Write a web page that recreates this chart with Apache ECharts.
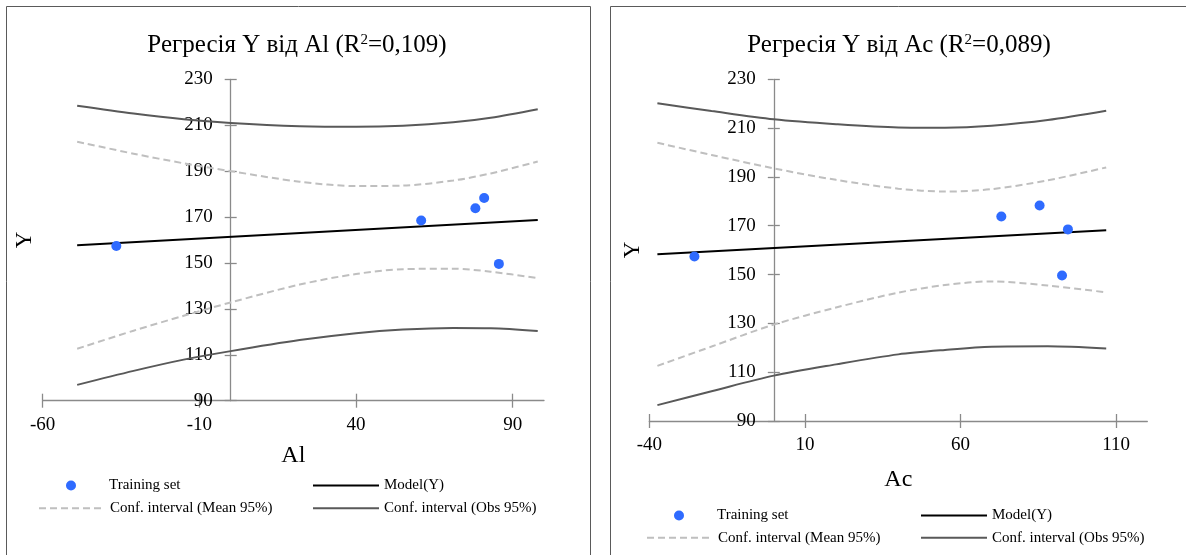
<!DOCTYPE html>
<html>
<head>
<meta charset="utf-8">
<script src="https://cdn.jsdelivr.net/npm/echarts@6/dist/echarts.min.js"></script>
<style>
  html, body { margin: 0; padding: 0; background: #fff; }
  #chart { width: 1186px; height: 555px; }
</style>
</head>
<body>
<div id="chart"></div>
<script>
// training set (same Y for both panels)
const trainY = [157.4, 168.5, 173.8, 178.3, 149.6];
const trainAl = [-36.5, 60.8, 78.1, 80.9, 85.6];
const trainAc = [-25.5, 94.5, 73.1, 85.4, 92.6];

// Al panel
const alModelX = [-49, 98];
const alModelY = [157.7, 168.7];
const alX = [-49, -31, -15, 0, 22, 40, 55, 71, 83, 98];
const alMeanUp = [202.8, 197.6, 193.4, 190.0, 185.4, 183.5, 183.7, 185.9, 189.0, 194.2];
const alMeanLo = [112.6, 120.5, 127.0, 132.8, 140.6, 145.2, 147.3, 147.5, 146.2, 143.4];
const alObsUp = [218.5, 215.1, 212.6, 211.0, 209.6, 209.3, 209.8, 211.3, 213.3, 217.0];
const alObsLo = [96.9, 103.0, 107.9, 111.6, 116.4, 119.4, 121.0, 121.7, 121.6, 120.4];
const alTicks = [-60, -10, 40, 90];

// Ac panel
const acModelX = [-37.4, 106.8];
const acModelY = [158.3, 168.2];
const acX = [-37.4, -20, 0, 20, 40, 55, 70, 88, 106.8];
const acMeanUp = [204, 199, 193.5, 188.8, 185.2, 184, 185, 188.6, 193.9];
const acMeanLo = [112.6, 120.5, 129.5, 136.5, 142.6, 145.7, 147.2, 145.5, 142.7];
const acObsUp = [220.2, 217, 213.6, 211.6, 210.3, 210.2, 211, 213.3, 217.1];
const acObsLo = [96.5, 102.2, 108.6, 113.2, 117.3, 119.1, 120.4, 120.6, 119.7];
const acTicks = [-40, 10, 60, 110];

const F = "'Liberation Serif', 'Times New Roman', serif";
const AXIS = '#8a8a8a';
const BLUE = '#2f6bff';

function pairs(xs, ys) {
  return xs.map((x, i) => [x, ys[i]]);
}

function xAxes(g, min, max, ticks, name, gap) {
  return [
    {
      gridIndex: g, type: 'value', min: min, max: max, interval: 50, position: 'bottom',
      name: name, nameLocation: 'middle', nameGap: gap,
      nameTextStyle: { fontFamily: F, fontSize: 24, color: '#000' },
      axisLine: { show: true, onZero: false, lineStyle: { color: AXIS, width: 1.3 } },
      axisTick: { show: true, length: 7, customValues: ticks, lineStyle: { color: AXIS, width: 1.3 } },
      axisLabel: { show: true, customValues: ticks, margin: 15, fontFamily: F, fontSize: 19, color: '#000' },
      splitLine: { show: false }
    },
    {
      gridIndex: g, type: 'value', min: min, max: max, interval: 50, position: 'bottom',
      axisLine: { show: false, onZero: false },
      axisTick: { show: true, inside: true, length: 7, customValues: ticks, lineStyle: { color: AXIS, width: 1.3 } },
      axisLabel: { show: false },
      splitLine: { show: false }
    }
  ];
}

// y axis sits at x = 0, so it is shifted into the grid with a negative offset
function yAxes(g, offset) {
  return [
    {
      gridIndex: g, type: 'value', min: 90, max: 230, interval: 20, position: 'left', offset: offset,
      axisLine: { show: true, onZero: false, lineStyle: { color: AXIS, width: 1.3 } },
      axisTick: { show: true, length: 6, lineStyle: { color: AXIS, width: 1.3 } },
      axisLabel: { show: true, margin: 18, fontFamily: F, fontSize: 19, color: '#000' },
      splitLine: { show: false }
    },
    {
      gridIndex: g, type: 'value', min: 90, max: 230, interval: 20, position: 'left', offset: offset,
      axisLine: { show: false, onZero: false },
      axisTick: { show: true, inside: true, length: 6, lineStyle: { color: AXIS, width: 1.3 } },
      axisLabel: { show: false },
      splitLine: { show: false }
    }
  ];
}

function panelSeries(xi, yi, trainX, modelX, modelY, cx, meanUp, meanLo, obsUp, obsLo) {
  const base = { type: 'line', xAxisIndex: xi, yAxisIndex: yi, symbol: 'none', showSymbol: false, smooth: 0.3, silent: true };
  const meanStyle = { color: '#bfbfbf', width: 2, type: [7, 4] };
  const obsStyle = { color: '#595959', width: 2 };
  return [
    Object.assign({}, base, { name: 'Conf. interval (Mean 95%)', data: pairs(cx, meanUp), lineStyle: meanStyle, itemStyle: { color: '#bfbfbf' } }),
    Object.assign({}, base, { name: 'Conf. interval (Mean 95%)', data: pairs(cx, meanLo), lineStyle: meanStyle, itemStyle: { color: '#bfbfbf' } }),
    Object.assign({}, base, { name: 'Conf. interval (Obs 95%)', data: pairs(cx, obsUp), lineStyle: obsStyle, itemStyle: { color: '#595959' } }),
    Object.assign({}, base, { name: 'Conf. interval (Obs 95%)', data: pairs(cx, obsLo), lineStyle: obsStyle, itemStyle: { color: '#595959' } }),
    Object.assign({}, base, { name: 'Model(Y)', smooth: false, data: pairs(modelX, modelY), lineStyle: { color: '#000', width: 2 }, itemStyle: { color: '#000' } }),
    {
      name: 'Training set', type: 'scatter', xAxisIndex: xi, yAxisIndex: yi,
      data: pairs(trainX, trainY), symbol: 'circle', symbolSize: 10,
      itemStyle: { color: BLUE, opacity: 1 }, z: 5, silent: true
    }
  ];
}

// one legend per item so each sits exactly where the reference has it
function legendItem(name, left, top, isLine) {
  const l = {
    orient: 'horizontal', left: left, top: top, itemWidth: 66, itemHeight: 10, padding: 0,
    selectedMode: false, data: [name],
    textStyle: { fontFamily: F, fontSize: 15, lineHeight: 16, color: '#000' }
  };
  if (isLine) {
    l.itemStyle = { opacity: 0, color: 'rgba(0,0,0,0)', borderWidth: 0 };
  } else {
    l.itemStyle = { opacity: 1 };
  }
  return l;
}

function legends(left1, left2, top1, top2) {
  return [
    // the dot icon has no left padding in its bounds, so shift it by the empty part
    legendItem('Training set', left1 + 28, top1, false),
    legendItem('Model(Y)', left2, top1, true),
    legendItem('Conf. interval (Mean 95%)', left1, top2, true),
    legendItem('Conf. interval (Obs 95%)', left2, top2, true)
  ];
}

function titleText(x, label, r2) {
  return {
    type: 'text', x: x, y: 45, silent: true,
    style: {
      text: '{a|Регресія Y від ' + label + ' (R}{s|2}{a|=' + r2 + ')}',
      align: 'center', verticalAlign: 'middle',
      rich: {
        a: { fontFamily: F, fontSize: 25, fill: '#000' },
        s: { fontFamily: F, fontSize: 15, fill: '#000', verticalAlign: 'top' }
      }
    }
  };
}

const chart = echarts.init(document.getElementById('chart'), null, { renderer: 'canvas' });

chart.setOption({
  animation: false,
  backgroundColor: '#fff',
  grid: [
    { left: 42.7, top: 79.3, width: 501.3, height: 321.4, outerBoundsMode: 'none', containLabel: false },
    { left: 649.3, top: 79.3, width: 498, height: 341.7, outerBoundsMode: 'none', containLabel: false }
  ],
  xAxis: [].concat(
    xAxes(0, -60, 100, alTicks, 'Al', 43),
    xAxes(1, -40, 120, acTicks, 'Ac', 47)
  ),
  yAxis: [].concat(yAxes(0, -188), yAxes(1, -124.5)),
  legend: [].concat(legends(38, 312, 477.5, 500.2), legends(646, 920, 507.5, 529.8)),
  series: [].concat(
    panelSeries(0, 0, trainAl, alModelX, alModelY, alX, alMeanUp, alMeanLo, alObsUp, alObsLo),
    panelSeries(2, 2, trainAc, acModelX, acModelY, acX, acMeanUp, acMeanLo, acObsUp, acObsLo)
  ),
  graphic: [
    { type: 'rect', silent: true, z: -10, shape: { x: 6.5, y: 6.5, width: 584, height: 600 }, style: { fill: 'none', stroke: '#5a5a5a', lineWidth: 1 } },
    { type: 'rect', silent: true, z: -10, shape: { x: 610.5, y: 6.5, width: 600, height: 600 }, style: { fill: 'none', stroke: '#5a5a5a', lineWidth: 1 } },
    titleText(297, 'Al', '0,109'),
    titleText(899, 'Ac', '0,089'),
    { type: 'text', x: 25, y: 240, rotation: Math.PI / 2, silent: true,
      style: { text: 'Y', align: 'center', verticalAlign: 'middle', font: "23px 'Liberation Serif', serif", fill: '#000' } },
    { type: 'text', x: 633, y: 250, rotation: Math.PI / 2, silent: true,
      style: { text: 'Y', align: 'center', verticalAlign: 'middle', font: "23px 'Liberation Serif', serif", fill: '#000' } }
  ]
});
</script>
</body>
</html>
